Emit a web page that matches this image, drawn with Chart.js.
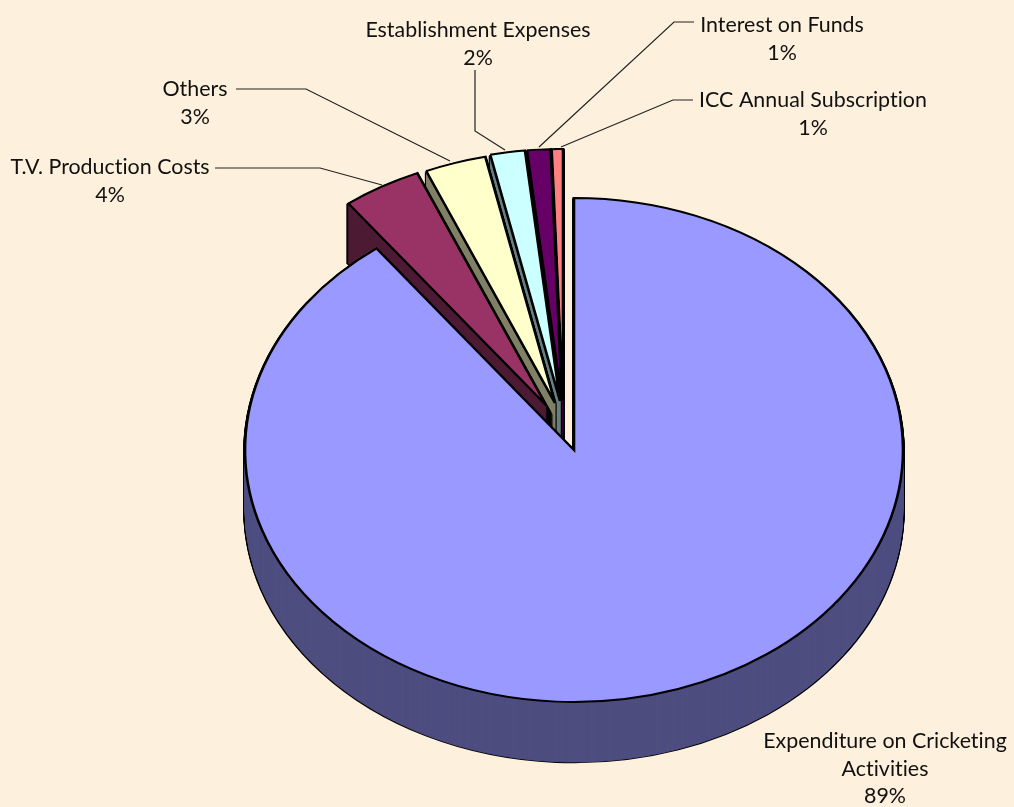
<!DOCTYPE html>
<html>
<head>
<meta charset="utf-8">
<title>Expenditure</title>
<script src="https://cdn.jsdelivr.net/npm/chart.js@4/dist/chart.umd.min.js"></script>
<style>
  html, body { margin: 0; padding: 0; background: #fdf0dc; }
  canvas { display: block; }
</style>
</head>
<body>
<canvas id="myChart" width="1014" height="807"></canvas>
<script>
// data
const categories = [
  "Expenditure on Cricketing Activities",
  "T.V. Production Costs",
  "Others",
  "Establishment Expenses",
  "Interest on Funds",
  "ICC Annual Subscription",
];
// slice sizes, printed labels are rounded
const values = [89.75, 3.85, 3.0, 1.7, 1.15, 0.55];
const percentLabels = ["89%", "4%", "3%", "2%", "1%", "1%"];
const topColors = ["#9999ff", "#993366", "#ffffcc", "#ccffff", "#660066", "#ff8080"];
const sideColors = ["#4d4d80", "#4d1a33", "#808066", "#668080", "#330033", "#804040"];

// 3d look
const squash = 252 / 329;
const depth = 60;
// how far each slice is pulled out, in screen pixels
const pullX = [0, -28, -19, -14, -12, -11];
const pullY = [0, -45, -47, -49, -49, -49];

// label text lines: center x, first baseline, then leader line points
const labelSpots = [
  { x: 885, y: 748, lines: ["Expenditure on Cricketing", "Activities"], leader: [] },
  { x: 110, y: 174, lines: ["T.V. Production Costs"], leader: [[215, 168], [320, 168], [382, 185]] },
  { x: 195, y: 96, lines: ["Others"], leader: [[236, 89], [306, 89], [450, 161]] },
  { x: 478, y: 37, lines: ["Establishment Expenses"], leader: [[475, 70], [475, 131], [505, 150]] },
  { x: 782, y: 32, lines: ["Interest on Funds"], leader: [[694, 22], [674, 22], [539, 147]] },
  { x: 813, y: 107, lines: ["ICC Annual Subscription"], leader: [[693, 100], [673, 100], [561, 147]] },
];

function place(ctx, arc, i, dy) {
  ctx.translate(pullX[i], pullY[i] + dy);
  ctx.translate(arc.x, arc.y);
  ctx.scale(1, squash);
  ctx.translate(-arc.x, -arc.y);
}

function drawWith(ctx, arc, i, dy, opts) {
  const saved = arc.options;
  arc.options = Object.assign({}, saved, opts);
  ctx.save();
  place(ctx, arc, i, dy);
  arc.draw(ctx);
  ctx.restore();
  arc.options = saved;
}

// draws the squashed pie with walls instead of the flat one
const pie3d = {
  id: "pie3d",
  beforeDatasetsDraw(chart) {
    const ctx = chart.ctx;
    const arcs = chart.getDatasetMeta(0).data;
    // right to left, the big slice last
    for (const i of [5, 4, 3, 2, 1, 0]) {
      const arc = arcs[i];
      for (let d = depth; d > 0; d--) {
        drawWith(ctx, arc, i, d, { backgroundColor: "#000", borderColor: "#000", borderWidth: 3.5 });
      }
      for (let d = depth; d > 0; d--) {
        drawWith(ctx, arc, i, d, { backgroundColor: sideColors[i], borderColor: sideColors[i], borderWidth: 1 });
      }
      drawWith(ctx, arc, i, 0, {});
    }
    return false;
  },
  afterDraw(chart) {
    const ctx = chart.ctx;
    ctx.save();
    ctx.strokeStyle = "#222";
    ctx.lineWidth = 1.2;
    labelSpots.forEach((spot) => {
      if (!spot.leader.length) return;
      ctx.beginPath();
      spot.leader.forEach((p, k) => (k ? ctx.lineTo(p[0], p[1]) : ctx.moveTo(p[0], p[1])));
      ctx.stroke();
    });
    ctx.fillStyle = "#111";
    ctx.font = "21.4px Lato";
    ctx.letterSpacing = "0.01px"; // stops the Lato "ti" ligature
    ctx.textAlign = "center";
    labelSpots.forEach((spot, i) => {
      const lines = spot.lines.concat(percentLabels[i]);
      lines.forEach((t, k) => ctx.fillText(t, spot.x, spot.y + k * 27.5));
    });
    ctx.restore();
  },
};

const myChart = new Chart(document.getElementById("myChart"), {
  type: "pie",
  data: {
    labels: categories,
    datasets: [
      {
        data: values,
        backgroundColor: topColors,
        borderColor: "#000",
        borderWidth: 2.6,
        borderJoinStyle: "miter",
      },
    ],
  },
  options: {
    responsive: false,
    animation: false,
    radius: 329,
    layout: { padding: { left: 134, top: 93 } },
    plugins: { legend: { display: false }, tooltip: { enabled: false } },
  },
  plugins: [pie3d],
});
</script>
</body>
</html>
